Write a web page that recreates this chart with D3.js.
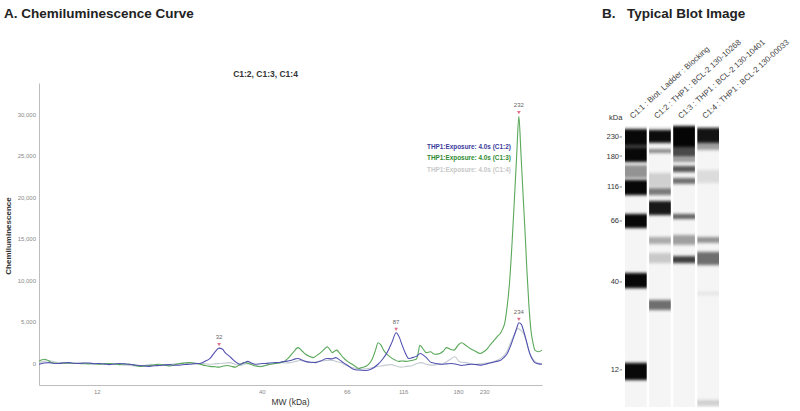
<!DOCTYPE html>
<html lang="en">
  <head>
    <meta charset="UTF-8" />
    <title>Chemiluminescence Curve</title>
    <style>
      body { margin: 0; background: #fff; }
      text { font-family: "Liberation Sans", Arial, sans-serif; }
    </style>
  </head>
  <body>
    <svg id="chart"></svg>
  </body>
</html>

<script src="https://cdnjs.cloudflare.com/ajax/libs/d3/7.8.5/d3.min.js"></script>

<script>
  // ---- data: panel A, electropherogram (x = migration position 0..100) ----
  const seriesNames = ["C1:2", "C1:3", "C1:4"];
  const legendLabels = [
    "THP1:Exposure: 4.0s (C1:2)",
    "THP1:Exposure: 4.0s (C1:3)",
    "THP1:Exposure: 4.0s (C1:4)",
  ];
  const mwTickLabels = ["12", "40", "66", "116", "180", "230"];
  const mwTickPos = [11.5, 44.3, 61.2, 72.4, 83.3, 88.5];
  const yTicks = [0, 5000, 10000, 15000, 20000, 25000, 30000];

  // C1:2
  const c12 = [
    [0,-100],[1,50],[2,100],[3,0],[4,0],[5,80],[6,100],[7,20],[8,0],[9,60],[10,50],[11,-30],[12,0],
    [13,-80],[14,-150],[15,-60],[16,0],[17,-50],[18,-100],[19,-180],[20,-250],[21,-300],[22,-350],
    [23,-280],[24,-250],[25,-180],[26,-150],[27,-220],[28,-200],[29,-120],[30,-100],[31,-20],[32,0],
    [33,250],[34,600],[35,1400],[35.8,1850],[36.5,1700],[37,1300],[38,800],[38.5,500],[39.3,100],
    [40,-100],[40.8,100],[41.5,250],[42.2,50],[43,-100],[44,-30],[45,0],[46,50],[47,100],[48,150],
    [49,250],[50,350],[51,550],[51.5,600],[52.3,400],[53,250],[54,150],[55,100],[56,300],[57.3,600],
    [58.2,550],[59,700],[59.8,400],[60.5,100],[61.5,-300],[62.5,-700],[63.5,-800],[64.8,-850],
    [66,-700],[67.4,-100],[68.3,500],[69.2,1300],[70.2,2600],[71,3700],[71.6,3200],[72.2,2200],
    [72.8,1300],[73.5,600],[74.2,700],[75,850],[75.8,1200],[76.4,1000],[77,700],[78,100],[79,0],
    [80,-100],[81,-50],[82,0],[83,-100],[84,-250],[85,-150],[86,-100],[87,-150],[88,-200],[89,-50],
    [90,100],[91,250],[91.7,350],[92.4,700],[93,1100],[93.8,2200],[94.5,3400],[95,4300],[95.4,4900],
    [95.9,4700],[96.3,4000],[96.9,2700],[97.5,1300],[98,600],[98.6,100],[99.3,-50],[100,-100],
  ];

  // C1:3
  const c13 = [
    [0,250],[0.6,450],[1.2,500],[1.8,350],[2.5,100],[3,50],[4,0],[5,30],[6,50],[7,0],[8,0],[9,-40],
    [10,-50],[11,-20],[12,-100],[13,-40],[14,0],[15,-80],[16,-150],[17,-60],[18,-100],[19,-200],
    [20,-350],[21,-300],[22,-250],[23,-150],[24,-100],[25,-200],[26,-300],[27,-150],[28,0],[29,50],
    [30,100],[31,0],[32,-100],[33,-250],[34,-350],[35,-400],[35.8,-450],[36.7,-300],[37.5,-250],
    [38.2,-350],[39,-450],[40,-100],[41,100],[41.8,-50],[42.5,-200],[43.3,-350],[44,-400],[45,-250],
    [46,-100],[47,0],[48,100],[48.8,250],[49.5,600],[50.5,1300],[51.5,1900],[52.3,1500],[53,1100],
    [53.8,850],[54.5,700],[55.3,1000],[56,1300],[56.7,1700],[57.3,2000],[57.8,1700],[58.3,1300],
    [58.8,1500],[59.2,1600],[59.8,1200],[60.5,700],[61.2,300],[62,0],[62.8,-300],[63.5,-600],
    [64.2,-500],[65,-350],[65.7,0],[66.3,600],[66.9,1600],[67.4,2500],[68,2200],[68.5,1600],
    [69.2,1100],[70,700],[70.8,400],[71.5,250],[72.2,300],[73,250],[74,350],[75,500],[75.4,1300],
    [75.7,2200],[76.3,1800],[77,1300],[77.8,1400],[78.7,1100],[79.7,1200],[80.4,1500],[81,1900],
    [81.8,1700],[82.5,1600],[83.2,2100],[84,2500],[84.8,2200],[85.7,1800],[86.7,1500],[87.7,1200],
    [88.4,1400],[89,1700],[89.8,2300],[90.5,2800],[91.2,3300],[91.7,3600],[92.2,4200],[92.6,4900],
    [93,6500],[93.5,9400],[94,14000],[94.5,19600],[95,25500],[95.4,29800],[95.8,25500],[96.3,19600],
    [96.7,15000],[97,11200],[97.4,7000],[97.8,4000],[98.2,2500],[98.6,1600],[99.3,1400],[100,1600],
  ];

  // C1:4
  const c14 = [
    [0,100],[1,250],[2,350],[3,200],[4,100],[5,50],[6,0],[7,50],[8,100],[9,50],[10,0],[11,-50],
    [12,-100],[13,-50],[14,0],[15,-100],[16,-150],[17,-200],[18,-250],[19,-300],[20,-350],[21,-250],
    [22,-100],[23,-200],[24,-250],[25,-200],[26,-100],[27,-50],[28,0],[29,50],[30,100],[31,50],[32,0],
    [33,-50],[34,-100],[35,-50],[36,0],[37,50],[38,100],[39,-100],[40,-250],[41,-50],[42,0],[43,-200],
    [44,-350],[45,-250],[46,-100],[47,0],[48,100],[49,50],[50,100],[51,250],[52,350],[53,200],[54,100],
    [55,200],[56,300],[57,350],[58,400],[59,250],[60,100],[61,-200],[62,-450],[63,-600],[64,-700],
    [65,-650],[66,-550],[67,-400],[68,-300],[69,-200],[70,-150],[71,-300],[72,-450],[73,-350],
    [74,-300],[75,-50],[76,100],[77,-100],[78,-200],[79,-150],[80,-100],[81,200],[82,600],[82.7,800],
    [83.4,300],[84,150],[85,100],[86,-50],[87,-100],[88,0],[89,50],[90,150],[91,350],[92,700],
    [93,1400],[93.8,2600],[94.5,3500],[95.2,4200],[95.8,4000],[96.5,3400],[97,2400],[97.5,1400],
    [98,700],[98.6,250],[99.3,50],[100,0],
  ];

  // peak annotations (series, position, label)
  const peakSeries = ["C1:2", "C1:2", "C1:2", "C1:3"];
  const peakPos = [35.8, 71, 95.4, 95.4];
  const peakText = ["32", "87", "234", "232"];

  // ---- data: panel B, blot (position = fraction of lane length) ----
  const laneNames = [
    "C1:1 : Biot. Ladder : Blocking",
    "C1:2 : THP1 : BCL-2 130-10268",
    "C1:3 : THP1 : BCL-2 130-10401",
    "C1:4 : THP1 : BCL-2 130-00033",
  ];
  const blotTickLabels = ["230", "180", "116", "66", "40", "12"];
  const blotTickPos = [0.039, 0.107, 0.217, 0.338, 0.555, 0.868];
  // [lane index, from, to, intensity]
  const blotBands = [
    [0,0.011,0.068,0.97],[0,0.068,0.078,0.75],[0,0.078,0.128,0.97],[0,0.139,0.185,0.4],
    [0,0.192,0.246,0.97],[0,0.313,0.363,0.97],[0,0.523,0.577,0.97],[0,0.843,0.904,0.97],
    [1,0.014,0.06,0.95],[1,0.082,0.096,0.45],[1,0.167,0.217,0.15],[1,0.221,0.246,0.5],
    [1,0.267,0.317,0.9],[1,0.395,0.42,0.3],[1,0.452,0.488,0.18],[1,0.619,0.655,0.55],
    [2,0.0,0.075,0.98],[2,0.075,0.11,0.7],[2,0.114,0.128,0.4],[2,0.142,0.164,0.65],
    [2,0.185,0.206,0.55],[2,0.313,0.331,0.6],[2,0.388,0.423,0.35],[2,0.463,0.488,0.75],
    [3,0.007,0.06,0.92],[3,0.06,0.085,0.35],[3,0.157,0.203,0.1],[3,0.395,0.416,0.4],
    [3,0.448,0.495,0.55],[3,0.591,0.601,0.08],[3,0.975,0.996,0.15],
  ];
</script>

<script>
  const width = 800,
    height = 411;
  const colors = { "C1:2": "#5252b0", "C1:3": "#5aa85a", "C1:4": "#c4cbd0" };
  const legendColors = ["#3b3b9c", "#2f8a2f", "#c8c8c8"];
  const seriesData = { "C1:2": c12, "C1:3": c13, "C1:4": c14 };

  const svg = d3.select("#chart").attr("width", width).attr("height", height);

  // ================= panel A =================
  const margin = { left: 39, top: 83, right: 258, bottom: 26 };

  const x = d3.scaleLinear().domain([0, 100]).range([margin.left, width - margin.right]);
  const y = d3
    .scaleLinear()
    .domain([-2600, 33800])
    .range([height - margin.bottom, margin.top]);

  svg
    .append("text")
    .attr("x", 4)
    .attr("y", 18)
    .attr("font-size", 13.5)
    .attr("font-weight", "bold")
    .attr("fill", "#222")
    .text("A. Chemiluminescence Curve");

  svg
    .append("text")
    .attr("x", (x.range()[0] + x.range()[1]) / 2 - 25)
    .attr("y", 77)
    .attr("text-anchor", "middle")
    .attr("font-size", 8.5)
    .attr("font-weight", "bold")
    .attr("fill", "#333")
    .text("C1:2, C1:3, C1:4");

  // 座標軸
  const yAxis = d3
    .axisLeft(y)
    .tickValues(yTicks)
    .tickSize(0)
    .tickPadding(3)
    .tickFormat(d3.format(","));
  const xAxis = d3
    .axisBottom(x)
    .tickValues(mwTickPos)
    .tickSize(0)
    .tickPadding(5)
    .tickFormat((d, i) => mwTickLabels[i]);

  const gy = svg
    .append("g")
    .attr("transform", `translate(${margin.left},0)`)
    .call(yAxis);
  const gx = svg
    .append("g")
    .attr("transform", `translate(0,${height - margin.bottom})`)
    .call(xAxis);

  [gx, gy].forEach((g) => {
    g.select(".domain").attr("stroke", "#bdbdbd").attr("stroke-width", 1);
    g.selectAll("text").attr("fill", "#8a8a8a").attr("font-size", 6);
  });

  svg
    .append("text")
    .attr("x", (x.range()[0] + x.range()[1]) / 2)
    .attr("y", 405)
    .attr("text-anchor", "middle")
    .attr("font-size", 8.5)
    .attr("fill", "#333")
    .text("MW (kDa)");

  svg
    .append("text")
    .attr("transform", `translate(11,${(y.range()[0] + y.range()[1]) / 2 + 2}) rotate(-90)`)
    .attr("text-anchor", "middle")
    .attr("font-size", 8)
    .attr("font-weight", "bold")
    .attr("fill", "#333")
    .text("Chemiluminescence");

  // 曲線, light series first so the dark ones sit on top
  const line = d3
    .line()
    .x((d) => x(d[0]))
    .y((d) => y(d[1]))
    .curve(d3.curveMonotoneX);

  ["C1:4", "C1:3", "C1:2"].forEach((name) => {
    svg
      .append("path")
      .datum(seriesData[name])
      .attr("fill", "none")
      .attr("stroke", colors[name])
      .attr("stroke-width", 1.1)
      .attr("stroke-linejoin", "round")
      .attr("d", line);
  });

  // peak labels
  const peaks = peakText.map((t, i) => {
    const pt = seriesData[peakSeries[i]].find((d) => d[0] === peakPos[i]);
    return { text: t, pos: pt[0], value: pt[1] };
  });

  const gp = svg.append("g");
  gp.selectAll("path")
    .data(peaks)
    .join("path")
    .attr("d", d3.symbol(d3.symbolTriangle, 6)())
    .attr("transform", (d) => `translate(${x(d.pos)},${y(d.value) - 4}) rotate(180)`)
    .attr("fill", "#e0708a");
  gp.selectAll("text")
    .data(peaks)
    .join("text")
    .attr("x", (d) => x(d.pos))
    .attr("y", (d) => y(d.value) - 9)
    .attr("text-anchor", "middle")
    .attr("font-size", 6)
    .attr("fill", "#666")
    .text((d) => d.text);

  // legend
  svg
    .append("g")
    .selectAll("text")
    .data(legendLabels)
    .join("text")
    .attr("x", 427)
    .attr("y", (d, i) => 149 + i * 11.3)
    .attr("font-size", 6.4)
    .attr("font-weight", "bold")
    .attr("fill", (d, i) => legendColors[i])
    .text((d) => d);

  // ================= panel B =================
  svg
    .append("text")
    .attr("x", 602)
    .attr("y", 18)
    .attr("font-size", 13.5)
    .attr("font-weight", "bold")
    .attr("fill", "#222")
    .text("B.");
  svg
    .append("text")
    .attr("x", 627)
    .attr("y", 18)
    .attr("font-size", 13.5)
    .attr("font-weight", "bold")
    .attr("fill", "#222")
    .text("Typical Blot Image");

  const lane = d3
    .scaleBand()
    .domain(d3.range(laneNames.length))
    .range([625, 719])
    .paddingInner(0.1);
  const by = d3.scaleLinear().domain([0, 1]).range([126, 407]);

  const defs = svg.append("defs");
  defs
    .append("filter")
    .attr("id", "blur")
    .attr("filterUnits", "userSpaceOnUse")
    .attr("x", 600)
    .attr("y", 110)
    .attr("width", 140)
    .attr("height", 310)
    .append("feGaussianBlur")
    .attr("stdDeviation", "0.4 1.6");

  const gb = svg.append("g");
  gb.selectAll("rect.lane")
    .data(laneNames)
    .join("rect")
    .attr("class", "lane")
    .attr("x", (d, i) => lane(i))
    .attr("y", by(0))
    .attr("width", lane.bandwidth())
    .attr("height", by(1) - by(0))
    .attr("fill", "#f5f5f5");

  const gbands = gb.append("g").attr("filter", "url(#blur)");
  gbands
    .selectAll("rect.band")
    .data(blotBands)
    .join("rect")
    .attr("class", "band")
    .attr("x", (d) => lane(d[0]))
    .attr("y", (d) => by(d[1]))
    .attr("width", lane.bandwidth())
    .attr("height", (d) => by(d[2]) - by(d[1]))
    .attr("fill", "#000")
    .attr("fill-opacity", (d) => d[3]);

  // MW marks on the blot
  const bt = svg.append("g");
  bt.selectAll("text")
    .data(blotTickLabels)
    .join("text")
    .attr("x", 619)
    .attr("y", (d, i) => by(blotTickPos[i]) + 2.5)
    .attr("text-anchor", "end")
    .attr("font-size", 7.5)
    .attr("fill", "#333")
    .text((d) => d);
  bt.selectAll("line")
    .data(blotTickPos)
    .join("line")
    .attr("x1", 619.5)
    .attr("x2", 622)
    .attr("y1", (d) => by(d))
    .attr("y2", (d) => by(d))
    .attr("stroke", "#555")
    .attr("stroke-width", 0.7);

  svg
    .append("text")
    .attr("x", 609)
    .attr("y", 120)
    .attr("font-size", 7.5)
    .attr("fill", "#333")
    .text("kDa");

  svg
    .append("g")
    .selectAll("text")
    .data(laneNames)
    .join("text")
    .attr("transform", (d, i) => `translate(${lane(i) + lane.bandwidth() / 2 - 3},119) rotate(-42)`)
    .attr("font-size", 8)
    .attr("fill", "#444")
    .text((d) => d);
</script>
